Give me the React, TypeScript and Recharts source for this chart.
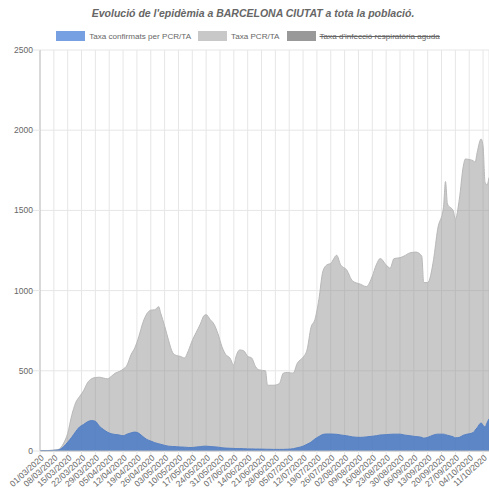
import React from 'react';
import { AreaChart, Area, XAxis, YAxis, CartesianGrid } from 'recharts';

// dies des del 01/03/2020
const dies = [
  0, 4, 9, 12, 14, 16, 18, 20, 22, 24, 26, 28, 30, 32, 34, 36, 38, 40, 42, 44,
  46, 48, 50, 52, 54, 56, 58, 60, 61, 63, 65, 67, 69, 71, 73, 75, 77, 79, 81, 83,
  84, 86, 88, 90, 92, 94, 96, 98, 99, 101, 103, 105, 107, 109, 111, 114, 115, 118, 121, 123,
  125, 128, 130, 133, 135, 137, 139, 141, 143, 145, 147, 150, 152, 155, 158, 162, 165, 168, 170, 172,
  175, 177, 179, 182, 184, 187, 190, 193, 194, 196, 199, 201, 204, 205, 206, 209, 210, 212, 214, 215,
  219, 220, 221, 223, 224, 225, 226, 227,
];

const taxaPcrTa = [
  2, 3, 8, 50, 110, 220, 300, 340, 375, 425, 450, 458, 460, 455, 450, 465, 485, 495, 510, 535,
  600, 645, 715, 800, 855, 878, 880, 900, 860, 780, 690, 615, 595, 590, 580, 625, 690, 740, 790, 845,
  850, 820, 790, 730, 650, 600, 580, 535, 585, 630, 625, 590, 580, 525, 505, 500, 410, 410, 420, 485,
  490, 485, 545, 585, 630, 770, 820, 945, 1120, 1160, 1170, 1220, 1160, 1130, 1060, 1040, 1025, 1090, 1160, 1200,
  1160, 1140, 1200, 1205, 1215, 1235, 1240, 1215, 1050, 1050, 1195, 1380, 1520, 1680, 1540, 1495, 1445, 1570, 1775, 1820,
  1810, 1800, 1860, 1945, 1900, 1675, 1660, 1705,
];

const taxaConfirmats = [
  3, 3, 6, 28, 55, 85, 120, 150, 165, 182, 190, 185, 155, 135, 118, 108, 103, 100, 95, 105,
  113, 118, 110, 90, 72, 62, 52, 45, 42, 35, 30, 28, 27, 25, 24, 22, 22, 25, 27, 30,
  30, 28, 26, 24, 20, 18, 17, 16, 15, 15, 14, 13, 13, 12, 12, 11, 11, 10, 10, 10,
  11, 14, 20, 30, 42, 55, 75, 90, 103, 106, 106, 104, 100, 95, 88, 85, 88, 92, 95, 100,
  102, 104, 105, 105, 100, 95, 90, 85, 80, 85, 100, 105, 105, 102, 98, 88, 82, 85, 98, 102,
  115, 130, 145, 175, 160, 150, 175, 200,
];

const etiquetes = [
  '01/03/2020', '08/03/2020', '15/03/2020', '22/03/2020', '29/03/2020', '05/04/2020',
  '12/04/2020', '19/04/2020', '26/04/2020', '03/05/2020', '10/05/2020', '17/05/2020',
  '24/05/2020', '31/05/2020', '07/06/2020', '14/06/2020', '21/06/2020', '28/06/2020',
  '05/07/2020', '12/07/2020', '19/07/2020', '26/07/2020', '02/08/2020', '09/08/2020',
  '16/08/2020', '23/08/2020', '30/08/2020', '06/09/2020', '13/09/2020', '20/09/2020',
  '27/09/2020', '04/10/2020', '11/10/2020',
];

const yTicks = [0, 500, 1000, 1500, 2000, 2500];

const series = [
  { name: 'Taxa confirmats per PCR/TA', color: '#77a0e2', hidden: false },
  { name: 'Taxa PCR/TA', color: '#c8c8c8', hidden: false },
  { name: "Taxa d'infecció respiratòria aguda", color: '#999999', hidden: true },
];

const data = dies.map((d, i) => ({
  dia: d,
  pcr: taxaPcrTa[i],
  confirmats: taxaConfirmats[i],
}));

const xTicks = etiquetes.map((_, i) => i * 7);

const FONT = '"Liberation Sans", Arial, Helvetica, sans-serif';

const DateTick = (props: any) => {
  const { x, y, payload } = props;
  const label = etiquetes[Math.round(payload.value / 7)];
  return (
    <g transform={`translate(${x + 3},${y + 1})`}>
      <text
        textAnchor="end"
        dominantBaseline="middle"
        transform="rotate(-42)"
        fontSize={8.5}
        fill="#666"
        fontFamily={FONT}
      >
        {label}
      </text>
    </g>
  );
};

export default function App() {
  return (
    <div style={{ position: 'absolute', left: 0, top: 0, width: 489, height: 493, background: '#fff', overflow: 'hidden', fontFamily: FONT }}>
      <div
        style={{
          position: 'absolute', left: 0, top: 7, width: 506, textAlign: 'center',
          fontSize: 10.5, fontWeight: 'bold', fontStyle: 'italic', color: '#666', whiteSpace: 'nowrap',
        }}
      >
        Evolució de l'epidèmia a BARCELONA CIUTAT a tota la població.
      </div>

      {/* llegenda */}
      <div
        style={{
          position: 'absolute', left: 0, top: 31, width: 496, display: 'flex',
          justifyContent: 'center', alignItems: 'center', gap: 7, fontSize: 8.1, color: '#666', whiteSpace: 'nowrap',
        }}
      >
        {series.map(s => (
          <div key={s.name} style={{ display: 'flex', alignItems: 'center', gap: 4 }}>
            <span style={{ display: 'inline-block', width: 29, height: 10, background: s.color }} />
            <span style={{ textDecoration: s.hidden ? 'line-through' : 'none' }}>{s.name}</span>
          </div>
        ))}
      </div>

      <div style={{ position: 'absolute', left: 0, top: 0 }}>
        <AreaChart width={489} height={493} data={data} margin={{ top: 50, right: 0, bottom: 0, left: 0 }}>
          <CartesianGrid stroke="#e6e6e6" horizontal vertical />
          <XAxis
            type="number"
            dataKey="dia"
            domain={[0, 227]}
            ticks={xTicks}
            interval={0}
            height={42}
            tickSize={5}
            tickMargin={0}
            tickLine={{ stroke: '#e6e6e6' }}
            axisLine={{ stroke: '#bfbfbf' }}
            tick={<DateTick />}
            allowDataOverflow
          />
          <YAxis
            type="number"
            domain={[0, 2500]}
            ticks={yTicks}
            interval={0}
            width={40}
            tickSize={7}
            tickMargin={0}
            tickLine={{ stroke: '#e6e6e6' }}
            axisLine={{ stroke: '#bfbfbf' }}
            tick={{ fontSize: 8.5, fill: '#666', fontFamily: FONT }}
          />
          <Area
            type="monotone"
            dataKey="pcr"
            stroke="#b8b8b8"
            strokeWidth={1}
            fill="#8f8f8f"
            fillOpacity={0.48}
            isAnimationActive={false}
            dot={false}
            activeDot={false}
          />
          <Area
            type="monotone"
            dataKey="confirmats"
            stroke="#5580c4"
            strokeWidth={1}
            fill="#4d7cc6"
            fillOpacity={0.88}
            isAnimationActive={false}
            dot={false}
            activeDot={false}
          />
        </AreaChart>
      </div>
    </div>
  );
}
